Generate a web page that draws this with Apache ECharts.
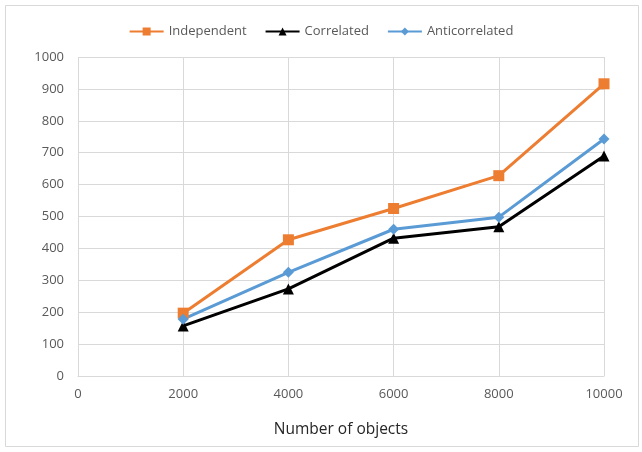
<!DOCTYPE html>
<html><head><meta charset="utf-8">
<script src="https://cdn.jsdelivr.net/npm/echarts@6/dist/echarts.min.js"></script>
<style>html,body{margin:0;padding:0;background:#fff}#c{width:642px;height:452px}</style>
</head><body><div id="c"></div>
<script>
const xValues = [2000, 4000, 6000, 8000, 10000];
const independent = [197, 427, 525, 628, 916];
const correlated = [157, 273, 432, 468, 690];
const anticorrelated = [178, 325, 460, 498, 743];
const seriesNames = ['Independent', 'Correlated', 'Anticorrelated'];
const xTitle = 'Number of objects';

const chart = echarts.init(document.getElementById('c'));
function pairs(v){ return xValues.map((x,i)=>[x,v[i]]); }
const font = '"Open Sans", "Noto Sans", sans-serif';
chart.setOption({
  animation:false,
  graphic:[{type:'rect',shape:{x:5.5,y:5.5,width:633,height:441},style:{fill:'none',stroke:'#d9d9d9',lineWidth:1}}],
  legend:{top:20,left:'center',itemGap:18,itemWidth:34,itemHeight:10,
    textStyle:{color:'#595959',fontSize:13,fontFamily:font},
    data:seriesNames},
  grid:{left:78,right:38,top:57,bottom:76},
  xAxis:{type:'value',min:0,max:10000,interval:2000,
    name:xTitle,nameLocation:'middle',nameGap:46,
    nameTextStyle:{color:'#262626',fontSize:15.5,fontFamily:font},
    axisLine:{show:true,lineStyle:{color:'#d9d9d9'}},axisTick:{show:false},
    axisLabel:{color:'#595959',fontSize:13,margin:12,fontFamily:font,formatter:v=>String(v)},
    splitLine:{show:true,lineStyle:{color:'#d9d9d9'}}},
  yAxis:{type:'value',min:0,max:1000,interval:100,
    axisLine:{show:false},axisTick:{show:false},
    axisLabel:{color:'#595959',fontSize:13,margin:14,fontFamily:font,formatter:v=>String(v)},
    splitLine:{show:true,lineStyle:{color:'#d9d9d9'}}},
  series:[
    {name:seriesNames[0],type:'line',data:pairs(independent),symbol:'rect',symbolSize:11,
      lineStyle:{width:3,color:'#ED7D31'},itemStyle:{color:'#ED7D31'}},
    {name:seriesNames[1],type:'line',data:pairs(correlated),symbol:'triangle',symbolSize:11,
      lineStyle:{width:3,color:'#000000'},itemStyle:{color:'#000000'}},
    {name:seriesNames[2],type:'line',data:pairs(anticorrelated),symbol:'diamond',symbolSize:11,
      lineStyle:{width:3,color:'#5B9BD5'},itemStyle:{color:'#5B9BD5'}}
  ]
});
</script></body></html>
